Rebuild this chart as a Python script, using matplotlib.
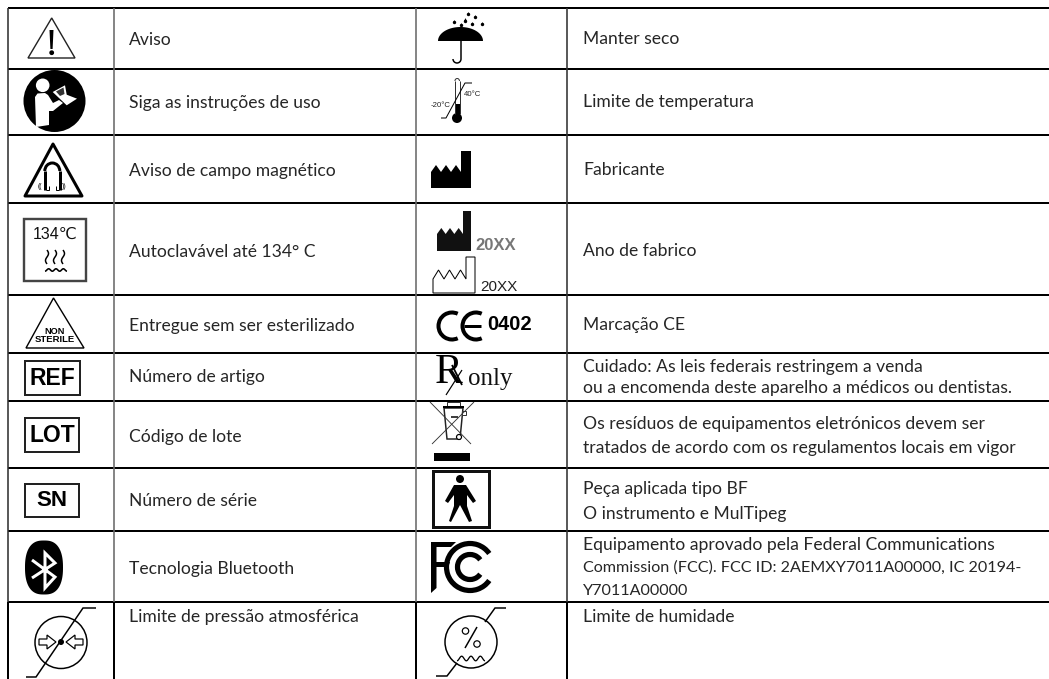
import numpy as np
import matplotlib
matplotlib.use('Agg')
import matplotlib.pyplot as plt
from matplotlib.patches import Circle, Polygon, Rectangle, Arc

W, H = 1049, 679
PX = 0.72  # one pixel in points at dpi 100

# table layout
row_edges = [8, 69, 135, 203, 295, 353, 401, 468, 531, 602, 679]
col_edges = [8, 114, 416, 567]
text_x = [129, 583]

# labels and their y centres
left_labels = ['Aviso', 'Siga as instruções de uso', 'Aviso de campo magnético',
               'Autoclavável até 134° C', 'Entregue sem ser esterilizado',
               'Número de artigo', 'Código de lote', 'Número de série',
               'Tecnologia Bluetooth', 'Limite de pressão atmosférica']
left_y = [40, 103, 171, 252, 326, 377, 437, 501, 569, 617]
right_labels = ['Manter seco', 'Limite de temperatura', 'Fabricante', 'Ano de fabrico',
                'Marcação CE',
                'Cuidado: As leis federais restringem a venda',
                'ou a encomenda deste aparelho a médicos ou dentistas.',
                'Os resíduos de equipamentos eletrónicos devem ser',
                'tratados de acordo com os regulamentos locais em vigor',
                'Peça aplicada tipo BF', 'O instrumento e MulTipeg',
                'Equipamento aprovado pela Federal Communications',
                'Commission (FCC). FCC ID: 2AEMXY7011A00000, IC 20194-',
                'Y7011A00000', 'Limite de humidade']
right_y = [39, 102, 170, 251, 325, 367, 388, 424, 448, 489, 514, 545, 568, 591, 617]

box_labels = ['REF', 'LOT', 'SN']
box_rows = [(25, 361, 80, 395), (25, 418, 79, 452), (25, 484, 79, 517)]

TXT = '#262626'
FONT = 'Lato'
FS = 12.6
FS_DIGITS = 11.6  # Lato digits run wide, these lines need to fit

fig = plt.figure(figsize=(W / 100, H / 100), dpi=100)
ax = fig.add_axes([0, 0, 1, 1])
ax.set_xlim(0, W)
ax.set_ylim(H, 0)
ax.axis('off')


def line(xs, ys, lw=1.5, c='k', **kw):
    ax.plot(xs, ys, color=c, lw=lw * PX, solid_capstyle=kw.pop('cap', 'butt'),
            solid_joinstyle=kw.pop('join', 'miter'), **kw)


def poly(pts, fc='k', ec='none', lw=0, **kw):
    ax.add_patch(Polygon(pts, closed=True, fc=fc, ec=ec, lw=lw * PX, **kw))


def sans(x, y, s, size, **kw):
    kw.setdefault('ha', 'left')
    kw.setdefault('va', 'center')
    kw.setdefault('color', 'k')
    ax.text(x, y, s, fontsize=size, family=['Liberation Sans', 'DejaVu Sans'], **kw)


# grid
for y in row_edges[:-1]:
    line([8, W], [y, y], lw=2)
for x, c in zip(col_edges, ['#333333', '#6a6a6a', '#6a6a6a', '#333333']):
    line([x, x], [8, 602], lw=1.6, c=c)
for x in col_edges:
    line([x, x], [602, 679], lw=2)

# text
for s, y in zip(left_labels, left_y):
    ax.text(text_x[0], y, s, fontsize=FS, family=FONT, color=TXT, va='center')
for s, y in zip(right_labels, right_y):
    size = FS_DIGITS if '7011' in s else FS
    ax.text(text_x[1], y, s, fontsize=size, family=FONT, color=TXT, va='center')

# warning triangle
poly([(51.7, 18), (28, 58), (75, 58)], fc='w', ec='#222222', lw=1.4)
poly([(49.5, 30), (53.5, 30), (52.6, 49), (50.4, 49)])
ax.add_patch(Circle((51.7, 52.7), 2.4, fc='k'))

# read instructions
ax.add_patch(Circle((54.5, 101), 31, fc='k'))
ax.add_patch(Circle((42.7, 85.3), 6.8, fc='w'))
poly([(35, 97), (37.5, 93.5), (45, 93), (48, 95), (53, 103), (59, 100), (63, 103),
      (53, 111), (49, 111), (49, 125), (36, 127)], fc='w')
poly([(52.7, 92), (65, 85.3), (66.7, 94.7), (77, 98.7), (66.7, 105.3), (59, 98)], fc='w')
poly([(56, 91.5), (63.5, 87.5), (64.5, 94), (60, 96)], fc='#333333')

# magnetic field
poly([(53, 144), (25, 196), (82, 196)], fc='w', ec='k', lw=3, joinstyle='round')
ax.add_patch(Arc((52.3, 171), 15, 16, theta1=180, theta2=360, color='k', lw=3 * PX))
line([44.8, 44.8], [171, 190], lw=3)
line([59.8, 59.8], [171, 190], lw=3)
sans(38, 187, '((', 5)
sans(62, 187, '))', 5)
line([46, 49, 49], [190, 190, 186], lw=1)
line([58.5, 56, 56], [190, 190, 186], lw=1)

# autoclave
ax.add_patch(Rectangle((24, 219), 62, 62, fc='w', ec='#444444', lw=2.4 * PX))
sans(55, 234, '134℃', 11.5, ha='center', color='#111111')
t = np.linspace(0, 1, 25)
for x0 in [47, 55, 63]:
    line(x0 + 1.5 * np.sin(t * 2 * np.pi), 250 + t * 14, lw=1.5)
t = np.linspace(0, 1, 60)
line(45 + 22 * t, 270 + 1.2 * np.cos(t * 6 * np.pi), lw=1.6)

# non sterile
poly([(53.5, 298), (26, 348), (84, 348)], fc='w', ec='k', lw=1.4)
sans(54.5, 331, 'NON', 6.6, ha='center', fontweight='bold')
sans(54.5, 339.5, 'STERILE', 6.8, ha='center', fontweight='bold')

# REF / LOT / SN
for s, (x0, y0, x1, y1) in zip(box_labels, box_rows):
    ax.add_patch(Rectangle((x0, y0), x1 - x0, y1 - y0, fc='w', ec='#222222', lw=2 * PX))
    sans((x0 + x1) / 2, (y0 + y1) / 2 + 0.5, s, 16.5 if s != 'SN' else 16, ha='center',
         fontweight='bold')

# bluetooth
t = np.linspace(0, 2 * np.pi, 120)
bx = 44 + 19 * np.sign(np.cos(t)) * np.abs(np.cos(t)) ** 0.75
by = 567.5 + 27 * np.sign(np.sin(t)) * np.abs(np.sin(t)) ** 0.85
poly(np.column_stack([bx, by]))
line([32, 55, 45, 45, 55, 32], [560, 577, 588, 553, 563, 578], lw=3, c='w')

# pressure limit
ax.add_patch(Circle((61, 642.5), 26, fc='w', ec='k', lw=1.5 * PX))
line([26, 36, 83, 96], [677, 677, 608, 608], lw=1.5)
ax.add_patch(Circle((61, 642), 3, fc='k'))
poly([(39, 639), (47, 639), (47, 635), (56, 642), (47, 649), (47, 645), (39, 645)],
     fc='w', ec='k', lw=1.2)
poly([(83, 639), (75, 639), (75, 635), (66, 642), (75, 649), (75, 645), (83, 645)],
     fc='w', ec='k', lw=1.2)

# umbrella
t = np.linspace(np.pi, 0, 40)
poly(np.column_stack([460.5 + 22.5 * np.cos(t), 41 - 14 * np.sin(t)]))
line([461, 461], [30, 59], lw=1.5)
ax.add_patch(Arc((457, 59), 8, 8, theta1=0, theta2=180, color='k', lw=1.5 * PX))
drops_x = [468, 464.5, 475, 482, 471.5, 453.5, 461]
drops_y = [14, 20.5, 17, 24, 24, 22, 25]
ax.scatter(drops_x, drops_y, s=6, c='k', marker='o', lw=0)
ax.scatter(np.array(drops_x) + 0.4, np.array(drops_y) - 1.5, s=4, c='k', marker='^', lw=0)

# temperature
line([455, 455], [81, 114], lw=1, c='#333333')
line([459.5, 459.5], [81, 114], lw=1, c='#333333')
ax.add_patch(Arc((457.2, 81), 4.5, 5, theta1=180, theta2=360, color='#333333', lw=PX))
ax.add_patch(Rectangle((455, 104), 4.5, 12, fc='k'))
ax.add_patch(Circle((457, 118), 5, fc='k'))
line([441, 446, 465, 472], [118, 118, 83, 83], lw=1)
sans(464, 94, '40°C', 5.6, color='#222222')
sans(431, 105.5, '-20°C', 5.6, color='#222222')


def factory(x0, x1, ch0, top, peak, valley, bottom, n=3, **kw):
    step = (ch0 - x0) / n
    pts = [(x0, bottom), (x0, valley)]
    for i in range(n):
        pts += [(x0 + step * (i + 0.5), peak), (x0 + step * (i + 1), valley)]
    pts += [(ch0, top), (x1, top), (x1, bottom)]
    poly(pts, **kw)


factory(431, 471, 461, 151, 165, 172, 188)
factory(437, 471, 463, 211, 228, 234, 251, fc='#111111')
sans(475, 245, '20XX', 12, color='#777777', fontweight='bold')
factory(433, 475, 466, 257, 270, 279, 293, fc='w', ec='k', lw=1)
sans(480, 287, '20XX', 11, color='#222222')

# CE
ax.add_patch(Arc((452, 326), 27, 27, theta1=65, theta2=295, color='k', lw=4 * PX))
ax.add_patch(Arc((476, 326), 27, 27, theta1=65, theta2=295, color='k', lw=4 * PX))
line([464, 481], [326, 326], lw=3)
sans(487, 325, '0402', 14.5, fontweight='bold')

# Rx only
ax.text(435, 372.5, 'R', fontsize=30, family='Liberation Serif', va='center', color='k')
line([452, 462], [365, 385], lw=1.8)
line([462, 446], [370, 395], lw=1.2)
ax.text(468, 379, 'only', fontsize=18, family='Liberation Serif', va='center', color='#111111')

# WEEE
poly([(444, 408), (463, 408), (460, 439), (447, 439)], fc='w', ec='#222222', lw=1.5)
line([443, 464], [407, 407], lw=2)
ax.add_patch(Rectangle((447, 402), 13, 4, fc='w', ec='#333333', lw=PX))
ax.add_patch(Rectangle((462, 411), 4, 4, fc='w', ec='#333333', lw=PX))
ax.add_patch(Circle((459, 437), 2.5, fc='w', ec='k', lw=1.2 * PX))
line([451, 458], [417, 417], lw=1.5)
line([430, 471], [402, 444], lw=0.9, c='#333333')
line([474, 432], [402, 444], lw=0.9, c='#333333')
ax.add_patch(Rectangle((434, 453), 36, 8, fc='k'))

# BF
ax.add_patch(Rectangle((433, 470.5), 55.5, 56, fc='w', ec='#111111', lw=3 * PX))
ax.add_patch(Circle((460, 479), 4, fc='k'))
poly([(454, 485), (466, 485), (476, 501), (473, 503), (467, 495), (467, 506), (472, 521),
      (469, 522), (460, 505), (451, 522), (449, 521), (454, 506), (454, 495), (448, 503),
      (445, 501)])

# FCC
poly([(431, 542), (456, 542), (451, 547), (436.5, 547), (436.5, 562), (450, 562),
      (448, 567), (436.5, 567), (436.5, 588), (431, 593)])
for r in [23.5, 12.5]:
    ax.add_patch(Arc((470, 567), 2 * r, 2 * r, theta1=35, theta2=325, color='k',
                     lw=5.2 * PX, capstyle='butt'))

# humidity limit
ax.add_patch(Circle((471, 642), 26, fc='w', ec='k', lw=1.5 * PX))
line([506, 495, 485], [608, 608, 622], lw=1.5)
line([436, 447, 457], [676, 676, 663], lw=1.5)
ax.add_patch(Circle((465.5, 631), 3.2, fc='w', ec='k', lw=1.2 * PX))
ax.add_patch(Circle((477, 644), 3.2, fc='w', ec='k', lw=1.2 * PX))
line([477, 465], [627, 648], lw=1.5)
t = np.linspace(0, 1, 80)
line(457 + 28 * t, 658.5 - 2.3 * np.cos(t * 6 * np.pi + np.pi), lw=1.3)

fig.savefig('out.png', dpi=100)
